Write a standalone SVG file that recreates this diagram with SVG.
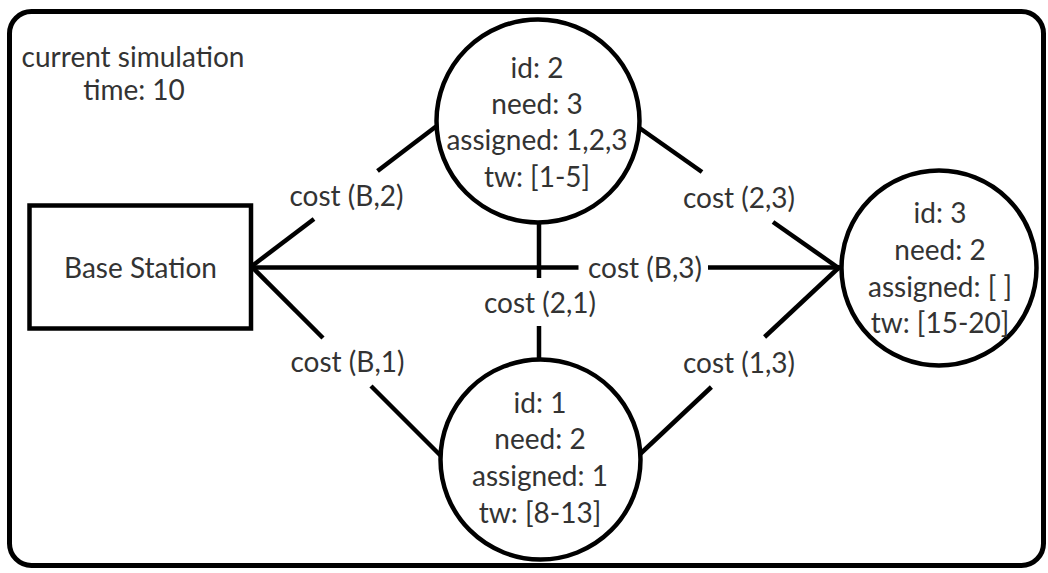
<svg xmlns="http://www.w3.org/2000/svg" width="1048" height="573" viewBox="0 0 1048 573">
<defs>
<style>
text { font-family: Lato, "Noto Sans", sans-serif; fill: #333333; text-anchor: middle; font-size: 28px; }
.shape { fill: #ffffff; stroke: #000000; stroke-width: 4.5; }
.edge { stroke: #000000; stroke-width: 4.5; fill: none; }
</style>
</defs>
<rect x="0" y="0" width="1048" height="573" fill="#ffffff"/>
<g id="frame">
<rect x="9.5" y="11.5" width="1034" height="554" rx="22" fill="none" stroke="#000000" stroke-width="5"/>
<text x="133" y="66.7">current simulation</text>
<text x="134" y="100">time: 10</text>
</g>
<g id="connectors">
<line class="edge" x1="252" y1="266" x2="314" y2="219"/>
<line class="edge" x1="377.5" y1="171" x2="436" y2="126.5"/>
<line class="edge" x1="251" y1="267.5" x2="578.5" y2="267.5"/>
<line class="edge" x1="708" y1="267.5" x2="842" y2="267.5"/>
<line class="edge" x1="252" y1="267" x2="323" y2="338"/>
<line class="edge" x1="371" y1="386" x2="442" y2="457"/>
<line class="edge" x1="636" y1="125.5" x2="702" y2="172"/>
<line class="edge" x1="773" y1="222" x2="840" y2="269"/>
<line class="edge" x1="840" y1="266.5" x2="764.6" y2="337"/>
<line class="edge" x1="711.4" y1="387" x2="638" y2="456"/>
<line class="edge" x1="539" y1="221" x2="539" y2="278"/>
<line class="edge" x1="539" y1="326" x2="539" y2="360"/>
<text x="346.5" y="206">cost (B,2)</text>
<text x="739" y="208.3">cost (2,3)</text>
<text x="645" y="278">cost (B,3)</text>
<text x="540" y="313.3">cost (2,1)</text>
<text x="347.5" y="371.7">cost (B,1)</text>
<text x="739" y="373.3">cost (1,3)</text>
</g>
<g id="node-base">
<rect class="shape" x="29.5" y="205.5" width="221.5" height="123"/>
<text x="140.5" y="278.3">Base Station</text>
</g>
<g id="node-2">
<circle class="shape" cx="538" cy="121" r="101.5"/>
<text x="537" y="78.3">id: 2</text>
<text x="537" y="114">need: 3</text>
<text x="537" y="150">assigned: 1,2,3</text>
<text x="537" y="186.7">tw: [1-5]</text>
</g>
<g id="node-3">
<circle class="shape" cx="939" cy="268" r="97.5"/>
<text x="940" y="223.3">id: 3</text>
<text x="940" y="259.5">need: 2</text>
<text x="940" y="296.7">assigned: [ ]</text>
<text x="940" y="332.7">tw: [15-20]</text>
</g>
<g id="node-1">
<circle class="shape" cx="540.5" cy="459.5" r="100"/>
<text x="540" y="412.7">id: 1</text>
<text x="540" y="449.3">need: 2</text>
<text x="540" y="486">assigned: 1</text>
<text x="540" y="522.7">tw: [8-13]</text>
</g>
</svg>
